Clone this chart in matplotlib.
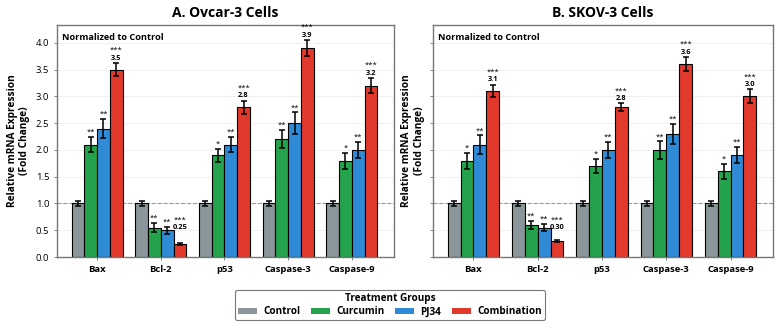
import numpy as np
import matplotlib
matplotlib.use("Agg")
import matplotlib.pyplot as plt
from matplotlib.patches import Patch

plt.rcParams['font.family'] = ['Open Sans', 'DejaVu Sans']

# --- data ---
genes = ["Bax", "Bcl-2", "p53", "Caspase-3", "Caspase-9"]
groups = ["Control", "Curcumin", "PJ34", "Combination"]
colors = ["#8a9699", "#25a24c", "#2f8bd6", "#e2392d"]

ovcar_mean = [
    [1.0, 1.0, 1.0, 1.0, 1.0],
    [2.1, 0.55, 1.9, 2.2, 1.8],
    [2.4, 0.50, 2.1, 2.5, 2.0],
    [3.5, 0.25, 2.8, 3.9, 3.2],
]
ovcar_err = [
    [0.05, 0.05, 0.05, 0.05, 0.05],
    [0.14, 0.08, 0.12, 0.17, 0.15],
    [0.18, 0.07, 0.14, 0.20, 0.15],
    [0.12, 0.02, 0.12, 0.15, 0.14],
]
ovcar_sig = [
    ["", "", "", "", ""],
    ["**", "**", "*", "**", "*"],
    ["**", "**", "**", "**", "**"],
    ["***", "***", "***", "***", "***"],
]

skov_mean = [
    [1.0, 1.0, 1.0, 1.0, 1.0],
    [1.8, 0.60, 1.7, 2.0, 1.6],
    [2.1, 0.55, 2.0, 2.3, 1.9],
    [3.1, 0.30, 2.8, 3.6, 3.0],
]
skov_err = [
    [0.05, 0.05, 0.05, 0.05, 0.05],
    [0.15, 0.08, 0.13, 0.16, 0.14],
    [0.17, 0.07, 0.15, 0.18, 0.15],
    [0.12, 0.02, 0.07, 0.13, 0.13],
]
skov_sig = [
    ["", "", "", "", ""],
    ["*", "**", "*", "**", "*"],
    ["**", "**", "**", "**", "**"],
    ["***", "***", "***", "***", "***"],
]

titles = ["A. Ovcar-3 Cells", "B. SKOV-3 Cells"]
value_labels = [["3.5", "0.25", "2.8", "3.9", "3.2"],
                ["3.1", "0.30", "2.8", "3.6", "3.0"]]

fig = plt.figure(figsize=(7.8, 3.27), dpi=100)
axA = fig.add_axes([0.073, 0.214, 0.432, 0.709])
axB = fig.add_axes([0.555, 0.214, 0.436, 0.709], sharey=axA)

x = np.arange(len(genes))
w = 0.2

for k, (ax, means, errs, sigs) in enumerate(zip(
        [axA, axB], [ovcar_mean, skov_mean], [ovcar_err, skov_err], [ovcar_sig, skov_sig])):
    ax.yaxis.grid(True, color="#eeeeee", lw=0.6)
    ax.set_axisbelow(True)
    for i in range(4):
        pos = x + (i - 1.5) * w
        ax.bar(pos, means[i], w, color=colors[i], edgecolor="black", linewidth=0.8,
               yerr=errs[i], capsize=2, error_kw=dict(ecolor="black", elinewidth=1.1, capthick=1.1),
               zorder=2)
        for j in range(len(genes)):
            top = means[i][j] + errs[i][j]
            if i == 3:
                base = max(top, 0.45)
                ax.text(pos[j], base + 0.03, value_labels[k][j], ha="center", va="bottom",
                        fontsize=5.3, fontweight="bold")
                ax.text(pos[j], base + 0.17, sigs[i][j], ha="center", va="bottom", fontsize=5.5)
            elif sigs[i][j]:
                ax.text(pos[j], top + 0.02, sigs[i][j], ha="center", va="bottom", fontsize=5.5)
    ax.axhline(1.0, color="#999999", ls="--", lw=0.8, zorder=1)
    ax.set_xticks(x)
    ax.set_xticklabels(genes, fontsize=9, fontweight="bold")
    ax.set_xlim(-0.63, 4.66)
    ax.set_ylim(0, 4.33)
    ax.set_yticks(np.arange(0, 4.01, 0.5))
    ax.tick_params(axis="both", length=2, width=0.6, color="#666666", labelsize=6.8)
    ax.set_ylabel("Relative mRNA Expression\n(Fold Change)", fontsize=7.3, fontweight="bold")
    ax.set_title(titles[k], fontsize=10, fontweight="bold", pad=6)
    ax.text(0.015, 0.965, "Normalized to Control", transform=ax.transAxes, ha="left", va="top",
            fontsize=6.6, fontweight="bold")
    for s in ax.spines.values():
        s.set_color("#777777")
        s.set_linewidth(1.0)

axA.set_yticklabels([f"{v:.1f}" for v in np.arange(0, 4.01, 0.5)])
plt.setp(axB.get_yticklabels(), visible=False)

handles = [Patch(facecolor=c, label=g) for c, g in zip(colors, groups)]
leg = fig.legend(handles=handles, loc="center", bbox_to_anchor=(0.5, 0.066), ncol=4,
                 title="Treatment Groups", frameon=True,
                 title_fontproperties={"weight": "bold", "size": 7.2},
                 prop={"weight": "bold", "size": 7.2}, handlelength=1.9, handleheight=0.5,
                 columnspacing=1.1, borderpad=0.3, labelspacing=0.2, handletextpad=0.6)
leg.get_frame().set_edgecolor("#555555")
leg.get_frame().set_linewidth(0.8)

fig.savefig("out.png", dpi=100)
